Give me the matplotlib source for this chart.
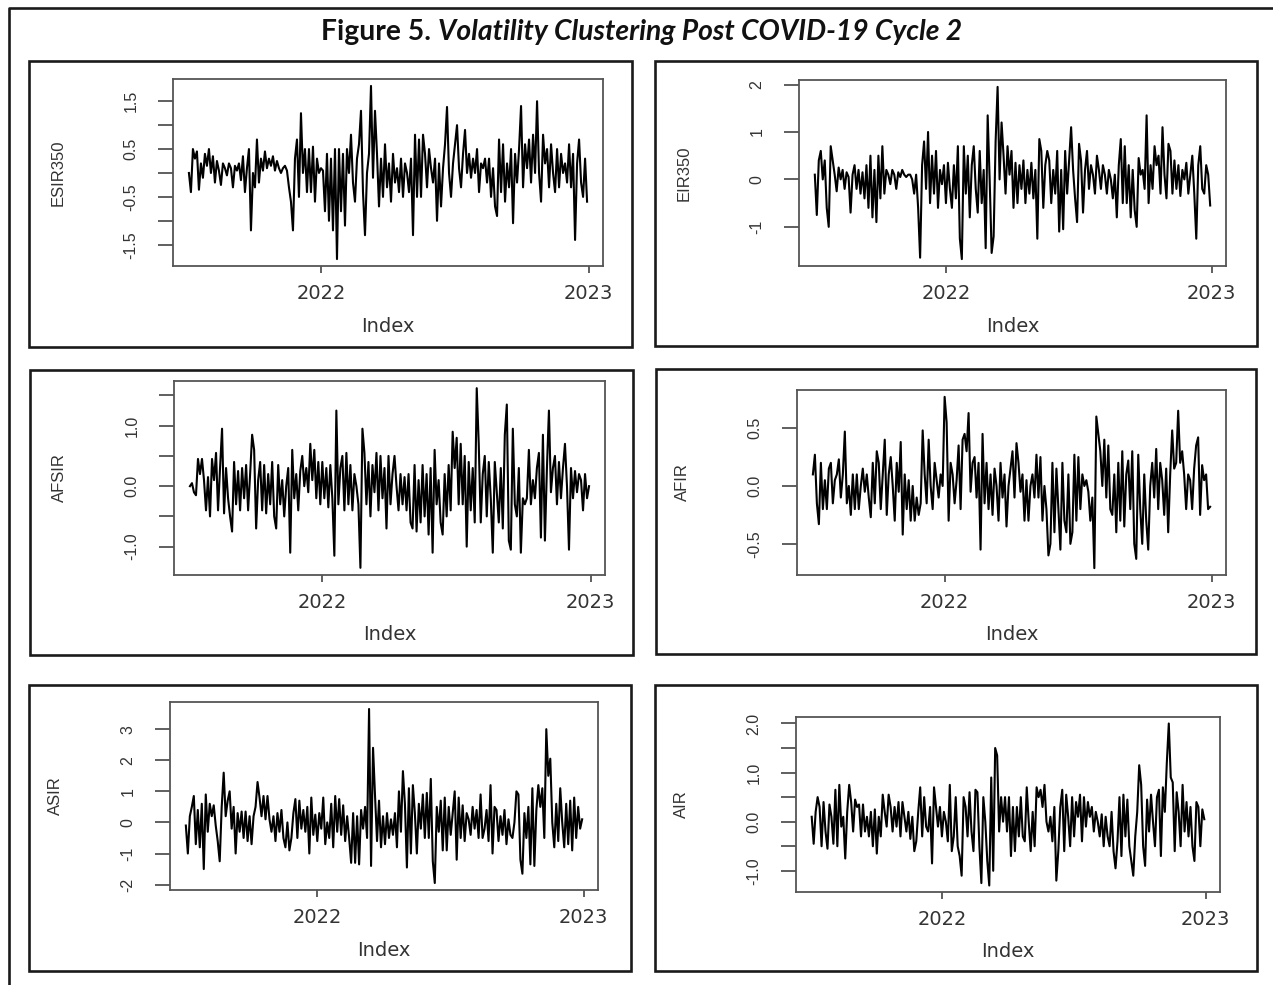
import pandas as pd
import matplotlib.pyplot as plt
from matplotlib.patches import Rectangle
from matplotlib.lines import Line2D

# series (about 200 points each, Jul 2021 - Dec 2022)
esir350 = [0.0, -0.4, 0.5, 0.3, 0.45, -0.35, 0.2, -0.1, 0.4, 0.15,
           0.5, 0.0, 0.35, -0.2, 0.25, 0.05, -0.25, 0.2, 0.1, -0.05,
           0.2, 0.1, -0.3, 0.15, 0.05, 0.2, -0.15, 0.35, -0.4, 0.1,
           0.5, -1.2, 0.0, -0.3, 0.7, -0.2, 0.3, 0.05, 0.45, 0.1,
           0.3, 0.15, 0.35, 0.05, 0.25, 0.1, 0.0, 0.1, 0.15, 0.05,
           -0.3, -0.6, -1.2, 0.3, 0.7, -0.5, 1.25, 0.0, 0.5, -0.4,
           0.5, -0.4, 0.55, -0.6, 0.3, 0.0, 0.1, 0.05, -0.8, 0.4,
           -1.0, 0.3, -1.2, 0.5, -1.8, 0.5, -0.8, 0.4, -1.1, 0.5,
           0.0, 0.8, -0.2, -0.6, 0.3, 0.6, 1.3, -0.4, -1.3, 0.0,
           0.4, 1.82, -0.1, 1.3, 0.4, -0.7, 0.3, -0.5, 0.6, -0.3,
           0.2, -0.6, 0.4, -0.2, 0.1, -0.4, 0.3, -0.5, 0.2, 0.0,
           -0.4, 0.3, -1.3, 0.8, -0.5, 0.7, -0.5, 0.8, 0.4, -0.3,
           0.5, 0.1, -0.2, 0.3, -1.0, 0.2, -0.7, 0.1, 0.6, 1.38,
           0.0, -0.5, 0.2, 0.6, 1.0, 0.1, -0.3, 0.4, 0.9, 0.0,
           0.4, -0.1, 0.3, 0.0, 0.5, -0.4, 0.2, 0.1, 0.3, -0.2,
           0.3, -0.5, 0.1, -0.7, -0.9, 0.7, -0.4, 0.6, -0.6, 0.2,
           -0.3, 0.5, -1.05, 0.4, -0.2, 0.5, 1.4, -0.3, 0.6, 0.1,
           0.7, -0.2, 0.8, 0.0, 1.5, 0.0, -0.6, 0.8, 0.2, 0.5,
           -0.3, 0.6, 0.0, -0.4, 0.5, -0.3, 0.4, 0.0, 0.2, -0.2,
           0.6, -0.3, 0.4, -1.4, 0.2, 0.7, -0.2, -0.5, 0.3, -0.6]

eir350 = [0.1, -0.75, 0.4, 0.6, 0.0, 0.4, -0.6, -1.0, 0.7, 0.4,
          0.1, -0.25, 0.25, 0.0, 0.2, -0.2, 0.15, 0.05, -0.7, 0.1,
          0.3, -0.2, 0.2, -0.3, 0.15, -0.4, 0.3, -0.6, 0.5, -0.8,
          0.2, -0.9, 0.5, -0.4, 0.7, -0.3, 0.2, 0.1, -0.1, 0.2,
          0.1, -0.2, 0.15, 0.05, 0.2, 0.1, 0.05, 0.1, 0.1, 0.0,
          -0.3, 0.1, -0.6, -1.65, 0.3, 0.8, -0.2, 1.0, -0.5, 0.5,
          -0.3, 0.6, -0.6, 0.2, -0.1, 0.3, -0.5, 0.35, -0.2, -0.6,
          0.3, -0.4, 0.7, -1.25, -1.68, 0.7, -0.3, 0.5, -0.8, 0.3,
          0.7, -0.2, -0.7, 0.6, -0.5, 0.2, -1.45, 1.35, 0.0, -1.55,
          -1.2, 0.8, 1.95, 0.0, 1.2, 0.5, -0.3, 0.7, 0.1, 0.6,
          -0.6, 0.35, -0.5, 0.3, -0.2, 0.4, -0.5, 0.2, -0.3, 0.35,
          -0.4, 0.2, -1.25, 0.85, 0.6, -0.6, 0.3, 0.6, 0.4, -0.5,
          0.2, -0.3, 0.6, -1.1, 0.2, -1.05, 0.6, -0.3, 0.4, 1.1,
          0.2, -0.4, -0.9, 0.75, 0.4, -0.7, 0.2, 0.6, -0.2, 0.3,
          0.1, -0.3, 0.5, 0.2, -0.2, 0.3, 0.1, -0.3, 0.2, 0.0,
          -0.4, 0.1, -0.8, 0.3, 0.85, -0.5, 0.7, -0.5, 0.3, -0.8,
          0.2, -0.65, -1.0, 0.45, 0.1, 0.2, -0.2, 1.35, -0.5, 0.3,
          -0.2, 0.7, 0.3, 0.5, -0.3, 1.1, 0.1, -0.4, 0.75, 0.6,
          -0.3, 0.4, -0.2, 0.3, -0.35, 0.2, 0.0, 0.35, -0.3, 0.1,
          0.5, -0.3, -1.25, 0.3, 0.7, -0.2, -0.3, 0.3, 0.1, -0.55]

afsir = [0.0, 0.05, -0.1, -0.15, 0.45, 0.2, 0.45, 0.1, -0.4, 0.15,
         -0.5, 0.45, 0.1, 0.55, -0.4, 0.3, 0.95, -0.45, 0.3, -0.2,
         -0.5, -0.75, 0.4, -0.3, 0.25, -0.4, 0.3, -0.2, 0.35, -0.4,
         0.2, 0.85, 0.6, -0.7, 0.1, 0.4, -0.4, 0.35, -0.45, 0.2,
         -0.3, 0.4, -0.5, -0.7, 0.35, -0.3, 0.1, -0.5, 0.0, 0.3,
         -1.1, 0.6, -0.2, 0.2, -0.4, 0.25, 0.5, 0.0, 0.3, -0.1,
         0.7, 0.1, 0.6, -0.2, 0.4, -0.3, 0.4, -0.2, 0.3, -0.35,
         0.35, -0.2, -1.15, 1.25, -0.3, 0.3, 0.5, -0.4, 0.55, -0.3,
         0.35, -0.4, 0.2, 0.0, -0.3, -1.35, 0.95, 0.55, -0.3, 0.4,
         -0.5, 0.35, -0.1, 0.55, -0.4, 0.5, -0.2, 0.3, -0.7, 0.5,
         -0.3, 0.2, 0.5, 0.0, -0.4, 0.2, -0.3, 0.15, -0.4, 0.2,
         -0.6, -0.7, 0.35, -0.75, 0.1, -0.6, 0.35, -0.5, 0.2, -0.8,
         0.3, -1.1, 0.6, -0.3, 0.1, -0.6, -0.8, 0.2, -0.5, 0.35,
         -0.4, 0.9, 0.3, 0.8, -0.3, 0.7, -0.3, 0.5, -1.0, 0.4,
         -0.4, 0.3, -0.6, 1.62, 0.7, -0.6, 0.2, 0.5, -0.5, 0.4,
         -0.2, -1.1, 0.4, -0.1, -0.6, 0.3, -0.7, 0.85, 1.35, -0.9,
         -1.05, 0.95, -0.3, -0.5, 0.3, -1.1, -0.2, -0.3, -0.2, 0.6,
         -0.3, 0.1, -0.2, 0.3, 0.55, -0.85, 0.85, -0.9, 0.3, 1.25,
         -0.1, 0.3, 0.5, -0.3, 0.4, -0.2, 0.3, 0.7, 0.0, -1.05,
         0.3, -0.2, 0.25, -0.1, 0.2, 0.1, -0.4, 0.2, -0.2, 0.0]

afir = [0.1, 0.27, -0.15, -0.33, 0.2, -0.2, 0.05, -0.2, 0.15, 0.2,
        -0.15, 0.05, 0.1, 0.23, -0.1, 0.1, 0.47, -0.15, 0.0, -0.25,
        0.1, -0.2, 0.1, -0.2, 0.0, 0.15, -0.05, 0.1, -0.1, -0.27,
        0.2, -0.15, 0.3, 0.2, -0.2, 0.1, 0.4, -0.25, 0.1, 0.25,
        0.0, -0.3, 0.2, -0.05, 0.38, -0.42, 0.1, -0.2, 0.05, -0.3,
        0.0, -0.3, -0.1, -0.25, -0.15, 0.48, 0.1, -0.15, 0.4, 0.0,
        -0.2, 0.2, 0.05, -0.1, 0.1, 0.0, 0.77, 0.55, -0.3, 0.2,
        0.1, -0.15, 0.05, 0.35, -0.2, 0.4, 0.45, 0.3, 0.63, -0.05,
        0.2, 0.25, -0.1, 0.2, -0.55, 0.45, -0.15, 0.2, -0.2, 0.1,
        -0.25, 0.15, 0.0, -0.3, 0.2, -0.1, 0.1, -0.35, 0.0, 0.15,
        0.3, -0.1, 0.37, 0.2, -0.05, 0.1, -0.3, 0.05, -0.3, 0.0,
        0.1, -0.1, 0.27, -0.1, 0.25, -0.3, 0.0, -0.2, -0.6, -0.5,
        0.2, -0.4, 0.15, -0.2, -0.55, 0.2, -0.3, -0.4, 0.1, -0.5,
        -0.4, 0.27, -0.3, 0.25, -0.2, 0.1, 0.0, 0.05, -0.05, -0.3,
        -0.1, -0.71, 0.6, 0.45, 0.3, 0.0, 0.4, -0.1, 0.35, -0.2,
        -0.25, 0.1, -0.4, 0.2, -0.3, 0.3, -0.35, 0.1, 0.22, -0.2,
        0.3, -0.5, -0.63, 0.27, -0.2, -0.5, 0.1, -0.3, -0.55, 0.0,
        0.2, -0.1, 0.32, -0.2, 0.2, 0.05, -0.25, 0.15, -0.4, 0.1,
        0.48, 0.15, 0.2, 0.65, 0.2, 0.3, 0.1, -0.2, 0.1, 0.05,
        -0.2, 0.15, 0.35, 0.42, -0.25, 0.18, 0.05, 0.1, -0.2, -0.18]

asir = [-0.1, -1.0, 0.2, 0.5, 0.85, -0.7, 0.4, -0.8, 0.6, -1.5,
        0.9, -0.3, 0.6, 0.2, 0.55, -0.1, -0.6, -1.25, 0.5, 1.6,
        0.2, 0.7, 1.0, -0.2, 0.5, -1.0, 0.3, -0.3, 0.35, -0.5,
        0.35, -0.6, 0.2, -0.7, 0.2, 0.5, 1.3, 0.8, 0.2, 0.85,
        0.1, 0.85, 0.1, -0.3, 0.2, -0.6, 0.3, -0.3, 0.4, -0.5,
        -0.8, 0.0, -0.9, -0.5, 0.3, 0.75, -0.5, 0.7, -0.2, 0.4,
        -0.3, 0.5, -1.0, 0.8, -0.4, 0.25, -0.6, 0.3, -0.2, 0.8,
        -0.7, 0.0, -0.5, 0.6, -0.8, 0.85, -0.3, 0.75, -0.4, 0.55,
        -0.6, 0.2, -0.5, -1.3, 0.3, -1.3, 0.2, -1.35, 0.4, -0.2,
        0.5, -0.5, 3.65, -1.4, 2.4, 0.85, -0.6, 0.7, -0.8, 0.2,
        -0.7, 0.3, -0.5, 0.1, -0.4, 0.3, -0.8, 1.0, -0.3, 1.65,
        0.6, -1.45, 1.1, -1.0, 1.2, 0.3, -1.0, 0.6, -0.2, 0.9,
        -0.5, 0.95, -0.5, 1.4, -1.25, -1.95, 0.5, -0.3, 0.7, -0.9,
        0.8, -0.9, 0.5, -0.4, 0.3, 1.0, -1.2, 0.8, -0.5, 0.55,
        -0.6, 0.3, 0.1, -0.4, 0.5, -0.2, 0.4, -0.5, 0.9, -0.5,
        -0.2, 0.4, -0.6, 1.2, -1.0, 0.5, 0.4, -0.6, 0.2, -0.4,
        0.4, -0.7, 0.1, -0.4, -0.5, 0.0, 1.0, 0.9, -1.2, -1.65,
        0.3, -0.5, 0.5, -1.35, 1.1, -1.4, 0.4, 1.2, 0.5, 1.1,
        -0.5, 3.0, 1.5, 2.05, 0.0, -0.8, 0.6, -0.6, 1.1, 0.0,
        -0.8, 0.6, -0.7, 0.7, -0.9, 0.8, -0.5, 0.5, -0.2, 0.1]

air = [0.1, -0.45, 0.2, 0.5, 0.3, -0.5, 0.4, -0.2, -0.55, 0.35,
       0.1, -0.45, 0.65, -0.5, 0.75, -0.1, 0.1, -0.75, 0.2, 0.75,
       0.4, -0.2, 0.45, 0.3, 0.35, -0.3, 0.35, -0.2, 0.1, -0.3,
       0.2, -0.5, 0.25, -0.65, 0.1, -0.3, 0.55, 0.2, -0.1, 0.55,
       0.3, -0.2, 0.3, -0.1, 0.4, -0.3, 0.4, 0.1, -0.2, 0.2,
       -0.35, 0.1, -0.6, -0.4, 0.2, 0.7, -0.3, 0.5, -0.1, -0.2,
       0.3, -0.85, 0.7, 0.3, -0.1, 0.3, -0.3, 0.2, 0.0, -0.4,
       0.75, -0.6, -0.3, 0.5, -0.5, -0.7, -1.1, 0.5, 0.3, -0.3,
       0.6, -0.2, -0.6, 0.65, 0.6, -0.5, -1.25, 0.5, 0.0, -0.8,
       -1.3, 0.9, -1.0, 1.5, 1.35, -0.2, 0.5, 0.0, 0.5, -0.2,
       0.5, -0.7, 0.3, -0.6, 0.3, -0.3, 0.5, -0.3, -0.4, 0.7,
       0.0, -0.6, 0.2, -0.5, 0.7, 0.5, 0.65, 0.3, 0.75, 0.0,
       -0.2, 0.1, -0.4, 0.3, -1.2, -0.6, 0.3, 0.65, -0.6, 0.55,
       0.1, -0.5, 0.5, -0.3, 0.4, 0.1, 0.55, -0.4, 0.5, -0.1,
       0.4, 0.1, 0.3, -0.2, 0.2, 0.0, -0.3, 0.15, -0.5, 0.1,
       -0.3, -0.5, 0.2, -0.6, -0.95, -0.4, 0.5, -0.7, 0.55, -0.3,
       0.45, -0.5, -0.8, -1.1, -0.3, 0.2, 1.15, 0.75, -0.5, -0.9,
       0.45, -0.2, 0.55, 0.0, -0.5, 0.5, 0.65, -0.7, 0.7, 0.2,
       1.2, 2.0, 0.9, 0.8, -0.6, 0.6, 0.2, -0.5, 0.75, -0.2,
       0.4, -0.3, 0.3, -0.5, -0.8, 0.4, 0.3, -0.5, 0.25, 0.05]

names = ['ESIR350', 'EIR350', 'AFSIR', 'AFIR', 'ASIR', 'AIR']
start_date, end_date = '2021-07-05', '2022-12-30'
year_ticks = ['2022-01-01', '2023-01-01']
year_labels = ['2022', '2023']

ytick_vals = [[-1.5, -1.0, -0.5, 0.0, 0.5, 1.0, 1.5],
              [-1, 0, 1, 2],
              [-1.0, -0.5, 0.0, 0.5, 1.0, 1.5],
              [-0.5, 0.0, 0.5],
              [-2, -1, 0, 1, 2, 3],
              [-1.0, -0.5, 0.0, 0.5, 1.0, 1.5, 2.0]]
ytick_text = [['-1.5', '', '-0.5', '', '0.5', '', '1.5'],
              ['-1', '0', '1', '2'],
              ['-1.0', '', '0.0', '', '1.0', ''],
              ['-0.5', '0.0', '0.5'],
              ['-2', '-1', '0', '1', '2', '3'],
              ['-1.0', '', '0.0', '', '1.0', '', '2.0']]

W, H = 1273, 985
fig = plt.figure(figsize=(W / 100, H / 100), dpi=100)

def frac(l, t, r, b):
    return [l / W, 1 - b / H, (r - l) / W, (b - t) / H]

# pixel boxes: outer frame of each panel and its plotting region
boxes = [(29, 61, 632, 347), (655, 61, 1257, 346),
         (30, 370, 633, 655), (656, 369, 1256, 654),
         (29, 685, 631, 971), (655, 685, 1257, 971)]
plots = [(173, 79, 603, 266), (799, 80, 1226, 266),
         (174, 381, 605, 575), (797, 390, 1226, 575),
         (170, 702, 598, 890), (796, 717, 1220, 892)]

series = [esir350, eir350, afsir, afir, asir, air]
txt = '#333333'

for i, vals in enumerate(series):
    l, t, r, b = boxes[i]
    fig.add_artist(Rectangle((l / W, 1 - b / H), (r - l) / W, (b - t) / H,
                             transform=fig.transFigure, fill=False,
                             lw=1.9, ec='#1a1a1a'))
    ax = fig.add_axes(frac(*plots[i]))
    dates = pd.date_range(start_date, end_date, periods=len(vals))
    ax.plot(dates, vals, color='black', lw=1.5)
    ax.margins(x=0.04, y=0.04)
    ax.set_xticks(pd.to_datetime(year_ticks))
    ax.set_xticklabels(year_labels, fontfamily='DejaVu Sans', fontsize=14, color=txt)
    ax.set_yticks(ytick_vals[i])
    ax.set_yticklabels(ytick_text[i], rotation=90, va='center',
                       fontfamily='Liberation Sans', fontsize=11.5, color=txt)
    ax.tick_params(axis='y', length=11, width=1.2, pad=14, color='#444444')
    ax.tick_params(axis='x', length=5, width=1.2, pad=8, color='#444444')
    for sp in ax.spines.values():
        sp.set_linewidth(1.3)
        sp.set_color('#555555')
    pw = plots[i][2] - plots[i][0]
    ph = plots[i][3] - plots[i][1]
    ax.set_xlabel('Index', fontfamily='DejaVu Sans', fontsize=14, color=txt, va='center')
    ax.xaxis.set_label_coords(0.5, -60 / ph)
    ax.set_ylabel(names[i], fontfamily='Liberation Sans', fontsize=12, color=txt, va='center')
    ax.yaxis.set_label_coords(-115 / pw, 0.5)

# outer frame (left and top edges only are visible)
fig.add_artist(Line2D([9 / W, 9 / W, 1.0], [0.0, 1 - 8 / H, 1 - 8 / H],
                      transform=fig.transFigure, lw=1.9, color='#1a1a1a'))

# title: bold part + bold italic part, centred as a whole
ty = 1 - 40 / H
t1 = fig.text(0, ty, 'Figure 5. ', fontfamily='Lato', fontweight='bold',
              fontsize=16, color='#111111', va='baseline')
t2 = fig.text(0, ty, 'Volatility Clustering Post COVID-19 Cycle 2', fontfamily='Lato',
              fontweight='bold', fontstyle='italic', fontsize=16, color='#111111', va='baseline')
rend = fig.canvas.get_renderer()
w1 = t1.get_window_extent(rend).width
w2 = t2.get_window_extent(rend).width
scale = 642 / (w1 + w2)
t1.set_fontsize(16 * scale)
t2.set_fontsize(16 * scale)
w1 *= scale
w2 *= scale
x0 = 642 - (w1 + w2) / 2
t1.set_x(x0 / W)
t2.set_x((x0 + w1) / W)

fig.savefig('out.png', dpi=100)
